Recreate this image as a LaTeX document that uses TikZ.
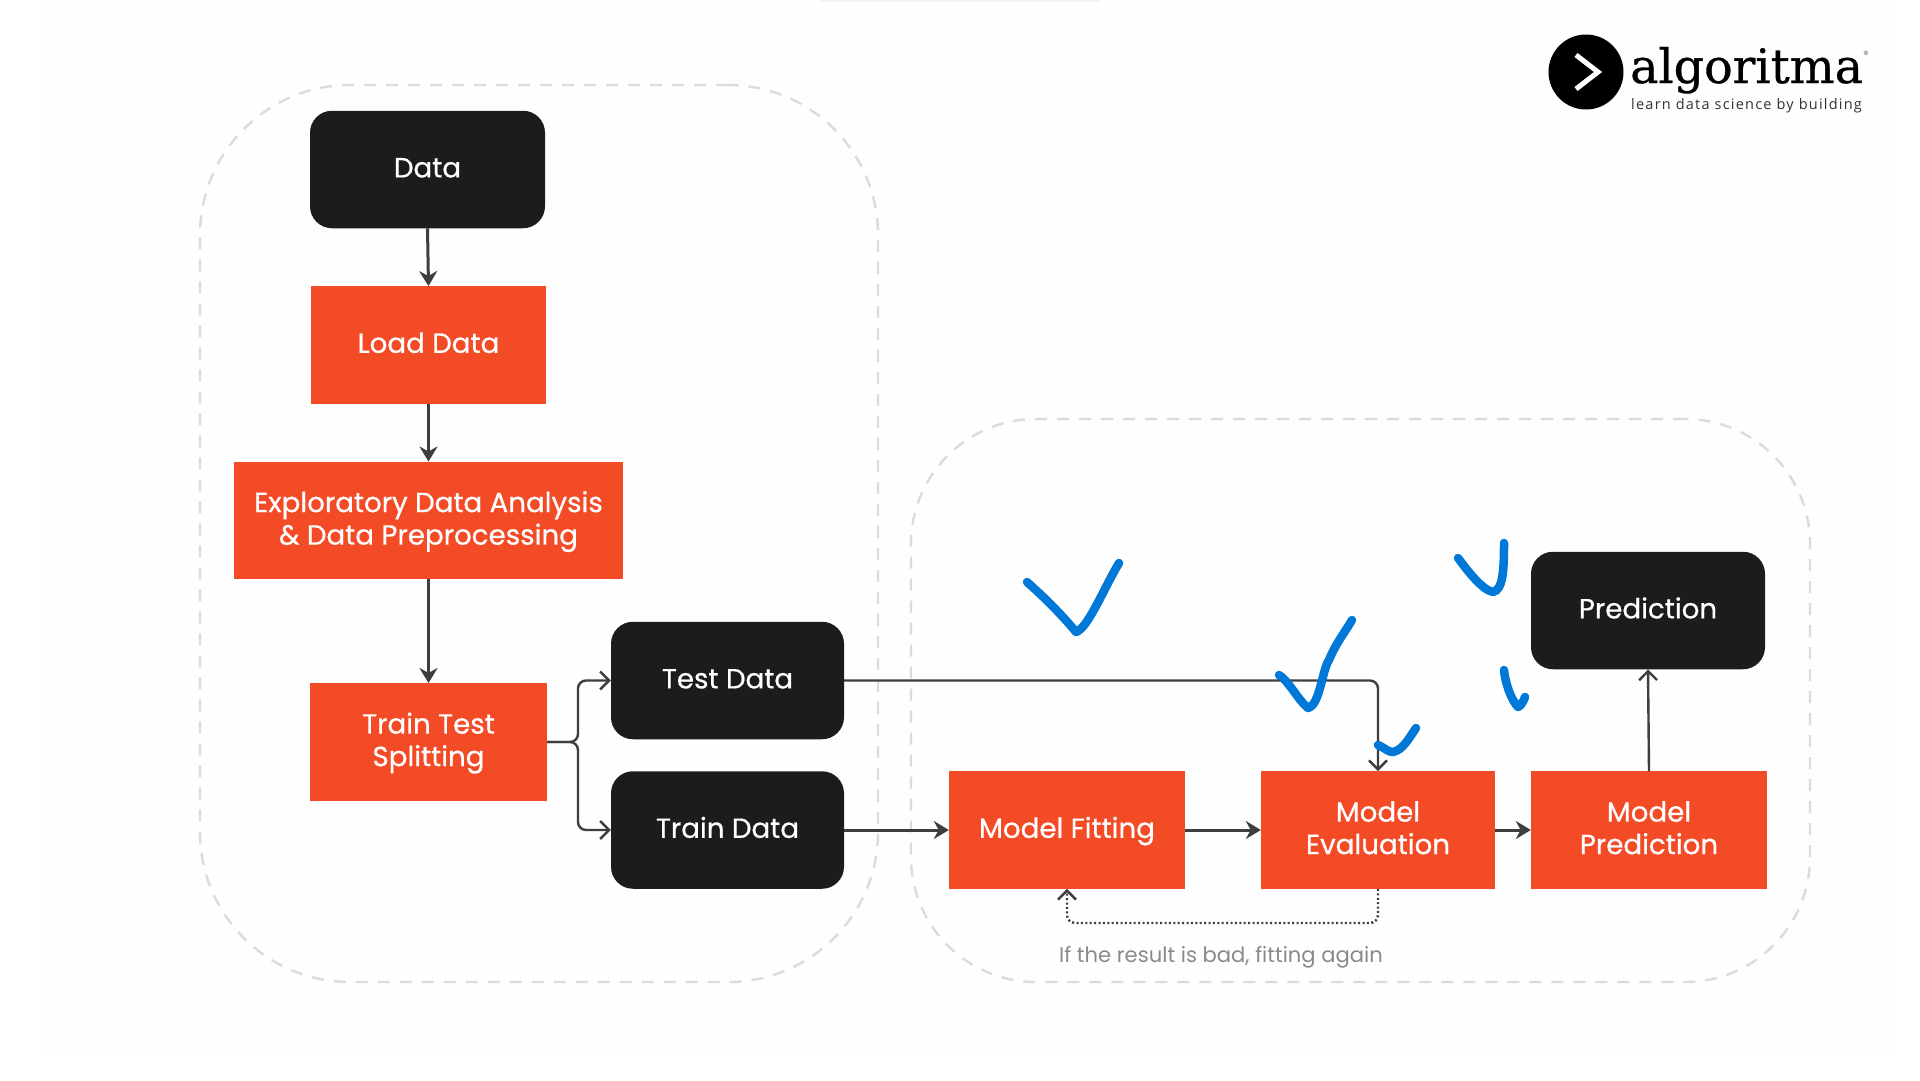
\documentclass[tikz,border=0pt]{standalone}
\usepackage{fontspec}
\usetikzlibrary{arrows.meta,positioning}
\setmainfont{Poppins}
\newfontfamily\boxfont[FakeBold=0.6]{Poppins}
\newfontfamily\logoserif[FakeBold=0.7]{DejaVu Serif}
\newfontfamily\logosans[LetterSpace=8.5]{Open Sans}
\definecolor{boxorange}{HTML}{F44B27}
\definecolor{boxblack}{HTML}{1C1C1C}
\definecolor{linegray}{HTML}{3E3E3E}
\definecolor{dashgray}{HTML}{DBDBDB}
\definecolor{tickblue}{HTML}{0078D7}
\newcommand{\btext}[1]{\raisebox{-7.6pt}[0pt][0pt]{\begin{tabular}{@{}c@{}}#1\end{tabular}}}
\tikzset{
  boxbase/.style={minimum height=117.5pt,inner sep=0pt,text=white,
    font=\boxfont\fontsize{27.7}{32.5}\selectfont},
  orangebox/.style={boxbase,fill=boxorange},
  blackbox/.style={boxbase,fill=boxblack,rounded corners=22pt},
  groupbox/.style={draw=dashgray,line width=2.4pt,dash pattern=on 12pt off 10pt,inner sep=0pt},
  solidarrow/.style={draw=linegray,line width=3pt,-{Stealth[length=15pt,width=18pt]}},
  openarrow/.style={draw=linegray,line width=2.4pt,rounded corners=8pt,-{Straight Barb[length=9pt,width=18pt,line width=2.4pt]}},
  dotarrow/.style={draw=linegray,line width=2.4pt,rounded corners=8pt,dash pattern=on 2pt off 2.4pt,
    -{Straight Barb[length=9pt,width=18pt,line width=2.4pt,sep=0pt]}},
  tickmark/.style={draw=tickblue,line width=8.5pt,line cap=round,line join=round},
}
\begin{document}
\begin{tikzpicture}[x=1pt,y=-1pt]
\useasboundingbox (0,0) rectangle (1920,1080);
\fill[white] (0,0) rectangle (1920,1080);
\fill[black!0.5] (40,0) rectangle (1890,1055);
\fill[black!4] (820,0) rectangle (1100,2);

% dashed groups
\node[groupbox,rounded corners=150pt,minimum width=678pt,minimum height=897pt] (groupleft) at (539,533.5) {};
\node[groupbox,rounded corners=125pt,minimum width=899pt,minimum height=563pt] (groupright) at (1360.5,700.5) {};

% boxes
\node[blackbox,minimum width=235pt] (data) at (427.5,169.5) {\btext{Data}};
\node[orangebox,minimum width=235pt] (load) at (428.5,345) {\btext{Load Data}};
\node[orangebox,minimum width=389pt] (eda) at (428.5,520.5) {\btext{Exploratory Data Analysis\\\& Data Preprocessing}};
\node[orangebox,minimum width=237pt] (tts) at (428.5,742) {\btext{Train Test\\Splitting}};
\node[blackbox,minimum width=233pt] (test) at (727.5,680.5) {\btext{Test Data}};
\node[blackbox,minimum width=233pt] (train) at (727.5,830) {\btext{Train Data}};
\node[orangebox,minimum width=236pt] (fit) at (1067,830) {\btext{Model Fitting}};
\node[orangebox,minimum width=234pt] (eval) at (1378,830) {\btext{Model\\Evaluation}};
\node[orangebox,minimum width=236pt] (pred) at (1649,830) {\btext{Model\\Prediction}};
\node[blackbox,minimum width=234pt] (prediction) at (1648,610.5) {\btext{Prediction}};

% connectors
\draw[solidarrow] (data.south) -- (load.north);
\draw[solidarrow] (load.south) -- (eda.north);
\draw[solidarrow] (eda.south) -- (tts.north);
\coordinate (fork) at (578,742);
\draw[openarrow] (tts.east) -- (fork) |- (test.west);
\draw[openarrow] (tts.east) -- (fork) |- (train.west);
\draw[solidarrow] (train.east) -- (fit.west);
\draw[solidarrow] (fit.east) -- (eval.west);
\draw[solidarrow] (eval.east) -- (pred.west);
\draw[openarrow] (test.east) -| (eval.north);
\draw[openarrow] (pred.north) -- (prediction.south);
\draw[dotarrow] (eval.south) -- ++(0,34) -| (fit.south);
\node[text=black!46,font=\fontsize{21.1}{26}\selectfont,inner sep=0pt] (again) at (1221,957) {If the result is bad, fitting again};

% hand-drawn ticks
\draw[tickmark] (1027,582) .. controls (1045,598) and (1062,615) .. (1076,632) .. controls (1088,628) and (1103,590) .. (1119,563);
\draw[tickmark] (1279,675) .. controls (1288,680) and (1298,700) .. (1308,708) .. controls (1320,705) and (1322,670) .. (1329,660) .. controls (1335,645) and (1343,635) .. (1352,620);
\draw[tickmark] (1378,745) .. controls (1385,748) and (1388,752) .. (1393,752) .. controls (1403,750) and (1409,738) .. (1416,728);
\draw[tickmark] (1458,558) .. controls (1467,570) and (1482,590) .. (1493,592) .. controls (1503,590) and (1504,570) .. (1504,543);
\draw[tickmark] (1504,670) .. controls (1505,682) and (1511,700) .. (1518,707) .. controls (1521,706) and (1523,702) .. (1525,697);

% logo
\node[circle,fill=black,minimum size=75pt,inner sep=0pt] (logomark) at (1586,72) {};
\coordinate (chevtop) at (1576,55);
\coordinate (chevtip) at (1598,72);
\coordinate (chevbot) at (1576,89);
\draw[white,line width=5pt] (chevtop) -- (chevtip) -- (chevbot);
\node[anchor=base west,inner sep=0pt,font=\logoserif\fontsize{47.5}{50}\selectfont,text=black] (logoword) at (1630,83) {algoritma};
\node[anchor=center,inner sep=0pt,font=\logosans\fontsize{6}{7}\selectfont,text=black!70] (logoreg) at (1866,53) {®};
\node[anchor=base west,inner sep=0pt,font=\logosans\fontsize{14.5}{16}\selectfont,text=black!80] (logotag) at (1631,109) {learn data science by building};
\end{tikzpicture}
\end{document}
